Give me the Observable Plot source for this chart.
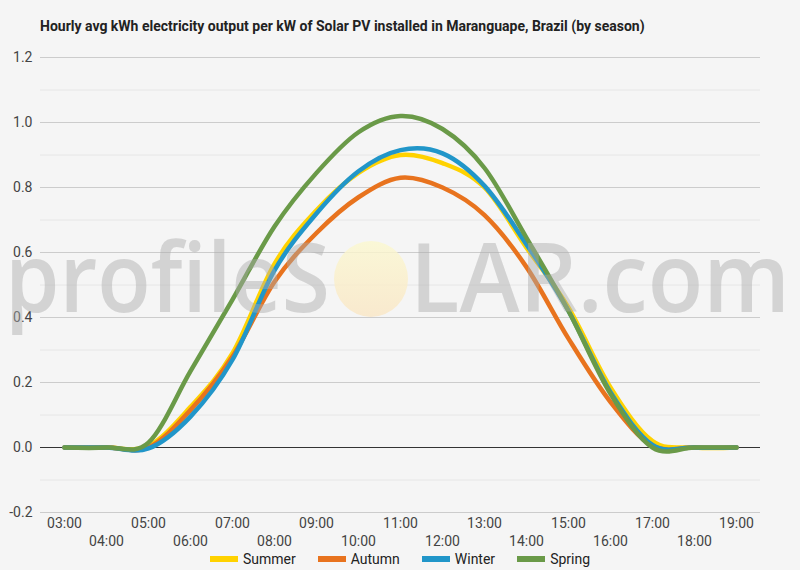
<!DOCTYPE html>
<html>
<head>
<meta charset="utf-8">
<script src="https://cdn.jsdelivr.net/npm/d3@7"></script>
<script src="https://cdn.jsdelivr.net/npm/@observablehq/plot@0.6"></script>
<style>
  html, body { margin: 0; padding: 0; background: #f5f5f5; }
  #wrap { position: relative; width: 800px; height: 570px; overflow: hidden; background: #f5f5f5; font-family: Roboto, sans-serif; }
  #title { position: absolute; left: 40px; top: 18px; font: bold 14px Roboto, sans-serif; color: #222; white-space: nowrap; }
  #chart { position: absolute; left: 0; top: 44px; }
  #legend { position: absolute; left: 0; top: 548px; width: 800px; height: 22px; display: flex; justify-content: center; align-items: center; gap: 22px; font: 14px Roboto, sans-serif; color: #222; }
  .item { display: flex; align-items: center; gap: 5px; }
  .sw { width: 28px; height: 6px; }
  #wm { position: absolute; left: 0; top: 0; pointer-events: none; }
</style>
</head>
<body>
<div id="wrap">
  <div id="title">Hourly avg kWh electricity output per kW of Solar PV installed in Maranguape, Brazil (by season)</div>
  <div id="chart"></div>
  <div id="legend"></div>
</div>
<script>
// ---- data ----
const hours = ["03:00","04:00","05:00","06:00","07:00","08:00","09:00","10:00","11:00","12:00","13:00","14:00","15:00","16:00","17:00","18:00","19:00"];
const oddHours = ["03:00","05:00","07:00","09:00","11:00","13:00","15:00","17:00","19:00"];
const evenHours = ["04:00","06:00","08:00","10:00","12:00","14:00","16:00","18:00"];
const seasons = ["Summer","Autumn","Winter","Spring"];
const summer = [0, 0, 0.005, 0.125, 0.29, 0.565, 0.73, 0.845, 0.90, 0.875, 0.80, 0.615, 0.43, 0.185, 0.02, 0, 0];
const autumn = [0, 0, 0.0, 0.115, 0.28, 0.51, 0.66, 0.77, 0.83, 0.80, 0.715, 0.555, 0.335, 0.14, 0.005, 0, 0];
const winter = [0, 0, -0.003, 0.095, 0.27, 0.545, 0.72, 0.85, 0.915, 0.905, 0.805, 0.625, 0.42, 0.17, 0.008, 0, 0];
const spring = [0, 0, 0.015, 0.235, 0.455, 0.68, 0.845, 0.97, 1.02, 0.98, 0.86, 0.645, 0.42, 0.165, 0, 0, 0];
const majorTicks = [-0.2, 0, 0.2, 0.4, 0.6, 0.8, 1.0, 1.2];
const minorTicks = [-0.1, 0.1, 0.3, 0.5, 0.7, 0.9, 1.1];
const colors = ["#ffd200", "#e8731e", "#2196c9", "#6a9a48"];

const series = [summer, autumn, winter, spring];
const data = seasons.flatMap((s, i) => hours.map((h, j) => ({hour: h, value: series[i][j], season: s})));

const chart = Plot.plot({
  width: 800,
  height: 504,
  marginTop: 13,
  marginBottom: 36,
  marginLeft: 40,
  marginRight: 40,
  style: {background: "#f5f5f5", fontFamily: "Roboto, sans-serif", fontSize: "14px", color: "#444", overflow: "visible"},
  x: {type: "point", domain: hours, padding: 0.54, label: null},
  y: {domain: [-0.2, 1.2], label: null},
  color: {domain: seasons, range: colors},
  marks: [
    Plot.gridY(minorTicks, {stroke: "#e6e6e6", strokeOpacity: 1}),
    Plot.gridY(majorTicks, {stroke: "#cccccc", strokeOpacity: 1}),
    Plot.ruleY([0], {stroke: "#333", strokeWidth: 1}),
    Plot.axisY(majorTicks, {tickSize: 0, tickPadding: 8, tickFormat: d => d.toFixed(1), fill: "#444", fontSize: 14, label: null}),
    Plot.axisX(oddHours, {tickSize: 0, tickPadding: 6, fill: "#444", fontSize: 14, label: null}),
    Plot.axisX(evenHours, {tickSize: 0, tickPadding: 6, dy: 18, fill: "#444", fontSize: 14, label: null}),
    Plot.line(data, {x: "hour", y: "value", z: "season", stroke: "season", strokeWidth: 4.5, curve: "cardinal"})
  ]
});
document.getElementById("chart").appendChild(chart);

// legend
const legend = document.getElementById("legend");
seasons.forEach((s, i) => {
  const it = document.createElement("div");
  it.className = "item";
  it.innerHTML = `<span class="sw" style="background:${colors[i]}"></span><span>${s}</span>`;
  legend.appendChild(it);
});

// watermark overlay
const ns = "http://www.w3.org/2000/svg";
const wm = document.createElementNS(ns, "svg");
wm.setAttribute("id", "wm");
wm.setAttribute("width", 800);
wm.setAttribute("height", 570);
wm.innerHTML = `
  <defs>
    <linearGradient id="sun" x1="0" y1="0" x2="0" y2="1">
      <stop offset="0" stop-color="#fbf8cf"/>
      <stop offset="1" stop-color="#fae6c4"/>
    </linearGradient>
  </defs>
  <ellipse cx="371" cy="279" rx="37" ry="38" fill="url(#sun)" opacity="0.8"/>
  <g font-family="'Open Sans', sans-serif" font-weight="600" font-size="96" fill="rgb(170,170,170)" fill-opacity="0.45">
    <text x="5" y="312" textLength="325" lengthAdjust="spacingAndGlyphs">profileS</text>
    <text x="410" y="312" textLength="380" lengthAdjust="spacingAndGlyphs">LAR.com</text>
  </g>`;
document.getElementById("wrap").appendChild(wm);
</script>
</body>
</html>
